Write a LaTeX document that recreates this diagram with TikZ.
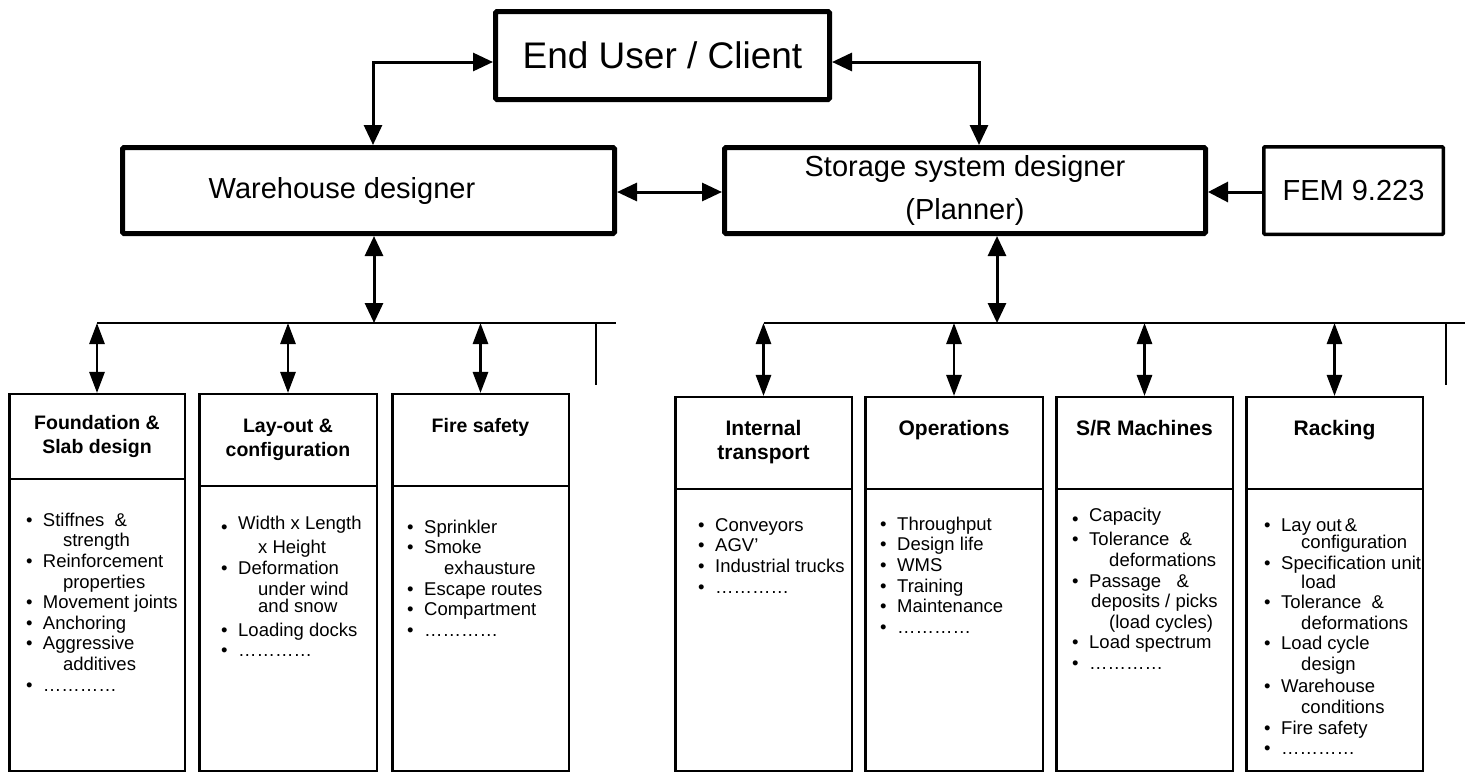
\documentclass[tikz,border=0pt]{standalone}
\usepackage{fontspec}
\setmainfont{Liberation Sans}
\usetikzlibrary{arrows.meta}
\newcommand{\bitem}[1]{\strut\makebox[17pt][l]{•}#1}
\newcommand{\bitemlow}[1]{\strut\makebox[17pt][l]{\raisebox{-4pt}{•}}#1}
\newcommand{\citem}[1]{\strut\hspace*{37pt}#1}
\newcommand{\ditem}[1]{\strut\hspace*{19pt}#1}
\newcommand{\dotsrow}{…………}
\tikzset{
  mainbox/.style={draw, line width=5pt, rounded corners=1.5pt, inner sep=0pt},
  fembox/.style={draw, line width=3.5pt, rounded corners=1pt, inner sep=0pt},
  subbox/.style={draw, line width=2.5pt, inner sep=0pt},
  hdr/.style={font=\fontsize{19.5}{24}\selectfont\bfseries, align=center},
  hdrR/.style={font=\fontsize{21}{24}\selectfont\bfseries, align=center},
  body/.style={font=\fontsize{18.5}{20.6}\selectfont, align=left, inner sep=0pt, anchor=north west},
  conn/.style={line width=3pt, {Triangle[length=20pt,width=18pt]}-{Triangle[length=20pt,width=18pt]}},
  oneway/.style={line width=3pt, -{Triangle[length=20pt,width=20pt]}},
  subconn/.style={line width=2.8pt, {Triangle[length=21pt,width=15pt]}-{Triangle[length=21pt,width=15pt]}},
  bus/.style={line width=2.5pt},
}
\begin{document}
\begin{tikzpicture}[x=1pt, y=-1pt]
\useasboundingbox (0,0) rectangle (1471,772);
\fill[white] (0,0) rectangle (1471,772);

% main boxes
\node[mainbox, minimum width=334pt, minimum height=88pt, font=\fontsize{37}{40}\selectfont] (eu) at (662.5,55.5) {End User / Client};
\node[mainbox, minimum width=492pt, minimum height=86pt, font=\fontsize{29}{34}\selectfont] (wh) at (368.5,190.5) {Warehouse designer\hspace*{53pt}};
\node[mainbox, minimum width=481pt, minimum height=86pt, font=\fontsize{29}{43}\selectfont, align=center] (ss) at (965,190.5) {Storage system designer\\(Planner)};
\node[fembox, minimum width=179.5pt, minimum height=87.5pt, font=\fontsize{29}{34}\selectfont] (fem) at (1353.5,190.5) {FEM 9.223};

% top connectors
\coordinate (c1) at (373,62);
\coordinate (c2) at (979,62);
\coordinate (c3) at (0,192);
\draw[conn] (eu.west |- c1) -| (c1 |- wh.north);
\draw[conn] (eu.east |- c2) -| (c2 |- ss.north);
\draw[conn] (wh.east |- c3) -- (ss.west |- c3);
\draw[oneway] (fem.west |- c3) -- (ss.east |- c3);

% sub boxes: headers
\node[subbox, hdr, minimum width=175.5pt, minimum height=84.75pt] (h1) at (97,436.6) {\strut Foundation \&\\\strut Slab design};
\node[subbox, hdr, minimum width=177.5pt, minimum height=91.75pt] (h2) at (288,440.1) {\strut Lay-out \&\\\strut configuration};
\node[subbox, hdr, minimum width=176.5pt, minimum height=91.75pt] (h3) at (480.5,440.1) {\strut Fire safety\\\strut};
\node[subbox, hdrR, minimum width=176.5pt, minimum height=91.75pt] (h4) at (763.5,443.1) {\strut Internal\\\strut transport};
\node[subbox, hdrR, minimum width=177.5pt, minimum height=91.75pt] (h5) at (954,443.1) {\strut Operations\\\strut};
\node[subbox, hdrR, minimum width=176.5pt, minimum height=91.75pt] (h6) at (1144.5,443.1) {\strut S/R Machines\\\strut};
\node[subbox, hdrR, minimum width=176.5pt, minimum height=91.75pt] (h7) at (1334.5,443.1) {\strut Racking\\\strut};

% sub boxes: bodies
\node[subbox, minimum width=175.5pt, minimum height=292pt] (b1) at (97,625) {};
\node[subbox, minimum width=177.5pt, minimum height=285pt] (b2) at (288,628.5) {};
\node[subbox, minimum width=176.5pt, minimum height=285pt] (b3) at (480.5,628.5) {};
\node[subbox, minimum width=176.5pt, minimum height=282pt] (b4) at (763.5,630) {};
\node[subbox, minimum width=177.5pt, minimum height=282pt] (b5) at (954,630) {};
\node[subbox, minimum width=176.5pt, minimum height=282pt] (b6) at (1144.5,630) {};
\node[subbox, minimum width=176.5pt, minimum height=282pt] (b7) at (1334.5,630) {};

% body texts
\node[body] (t1) at (25.8,511.6) {\bitem{Stiffnes\ \ \&}\\\citem{strength}\\\bitem{Reinforcement}\\\citem{properties}\\\bitem{Movement joints}\\\bitem{Anchoring}\\\bitem{Aggressive}\\\citem{additives}\\\bitem{\dotsrow}};
\node[body] (t2) at (221,514.6) {\bitemlow{Width x Length}\\[4pt]\citem{x Height}\\\bitem{Deformation}\\\citem{under wind}\\[-3pt]\citem{and snow}\\[3pt]\bitem{Loading docks}\\\bitem{\dotsrow}};
\node[body] (t3) at (407,518.6) {\bitem{Sprinkler}\\\bitem{Smoke}\\\citem{exhausture}\\\bitem{Escape routes}\\\bitem{Compartment}\\\bitem{\dotsrow}};
\node[body] (t4) at (698,516.6) {\bitem{Conveyors}\\\bitem{AGV’}\\\bitem{Industrial trucks}\\\bitem{\dotsrow}};
\node[body] (t5) at (880,515.6) {\bitem{Throughput}\\\bitem{Design life}\\\bitem{WMS}\\\bitem{Training}\\\bitem{Maintenance}\\\bitem{\dotsrow}};
\node[body] (t6) at (1072,506.6) {\bitemlow{Capacity}\\[4pt]\bitem{Tolerance\ \ \&}\\\citem{deformations}\\\bitem{Passage\ \ \ \&}\\\ditem{deposits / picks}\\\citem{(load cycles)}\\\bitem{Load spectrum}\\\bitem{\dotsrow}};
\node[body] (t7) at (1264,516.6) {\bitem{Lay out\,\&}\\[-3pt]\citem{configuration}\\\bitem{Specification unit}\\[-2pt]\citem{load}\\\bitem{Tolerance\ \ \&}\\\citem{deformations}\\\bitem{Load cycle}\\\citem{design}\\[1pt]\bitem{Warehouse}\\[1pt]\citem{conditions}\\\bitem{Fire safety}\\\bitem{\dotsrow}};

% left bus
\coordinate (busL) at (374,323);
\coordinate (busLend) at (616,323);
\coordinate (stubLa) at (596,323);
\coordinate (stubLb) at (596,385);
\draw[conn] (wh.south -| busL) -- (busL);
\draw[bus] (h1.north |- busL) -- (busLend);
\draw[bus] (stubLa) -- (stubLb);
\foreach \h in {h1,h2,h3} \draw[subconn] (\h.north |- busL) -- (\h.north);

% right bus
\coordinate (busR) at (997,323);
\coordinate (busRend) at (1465,323);
\coordinate (stubRa) at (1446,323);
\coordinate (stubRb) at (1446,385);
\draw[conn] (ss.south -| busR) -- (busR);
\draw[bus] (h4.north |- busR) -- (busRend);
\draw[bus] (stubRa) -- (stubRb);
\foreach \h in {h4,h5,h6,h7} \draw[subconn] (\h.north |- busR) -- (\h.north);
\end{tikzpicture}
\end{document}
